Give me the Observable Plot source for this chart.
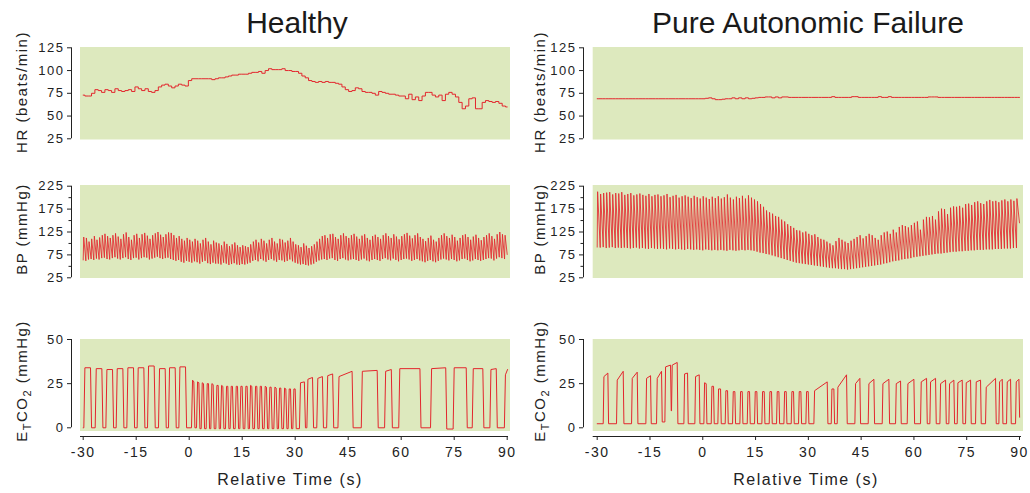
<!DOCTYPE html>
<html><head><meta charset="utf-8">
<script src="https://cdn.jsdelivr.net/npm/d3@7"></script>
<script src="https://cdn.jsdelivr.net/npm/@observablehq/plot@0.6"></script>
<style>
body{margin:0;background:#fff;font-family:"Liberation Sans",Arial,sans-serif;color:#222;}
#c{position:relative;width:1030px;height:493px;overflow:hidden;background:#fff;}
#c svg{position:absolute;}
.t{position:absolute;font-size:30px;line-height:34px;white-space:nowrap;transform:translateX(-50%);color:#1a1a1a;}
.yl{position:absolute;font-size:15px;letter-spacing:1.5px;line-height:18px;white-space:nowrap;transform:translate(-50%,-50%) rotate(-90deg);color:#222;}
.yl sub{font-size:11px;vertical-align:-4px;line-height:0;}
.xl{position:absolute;font-size:16px;letter-spacing:1.5px;line-height:20px;white-space:nowrap;transform:translateX(-50%);color:#222;}
</style></head><body><div id="c"></div>
<script>
// ---------------- data ----------------
const xTicks = [-30, -15, 0, 15, 30, 45, 60, 75, 90];
const hrTicks = [25, 50, 75, 100, 125];
const bpTicks = [25, 75, 125, 175, 225];
const bpMinor = [50, 100, 150, 200];
const co2Ticks = [0, 25, 50];

// Heart rate (beats/min), evenly sampled from -30 s to 90 s
const hrHealthy = [
73,72,72,75,79,78,76,79,78,76,
80,78,77,78,79,77,82,80,78,80,
77,76,78,82,84,85,83,81,83,85,
84,83,89,91,91,91,91,91,91,90,
91,92,92,93,94,95,95,96,96,96,
97,98,98,99,97,100,102,101,101,101,
102,100,100,99,99,97,94,92,89,88,
87,88,87,88,87,87,86,85,82,79,
77,78,81,80,77,76,76,75,73,77,
76,75,74,74,73,72,72,69,74,68,
71,67,72,76,76,73,71,73,67,74,
76,74,71,65,58,61,69,70,58,58,
65,67,66,65,66,64,61,60];
const hrPAF = [
69,69,69,69,69,69,69,69,69,69,
69,69,69,69,69,69,69,69,69,69,
69,69,69,69,69,69,69,69,69,69,
69,69,69,
69.5,70,69,68,68,68.5,69,69,70,69,
70,69,70,69,69.5,70,70.5,70.5,71,71,
70,71,70,71,71,70.5,70.5,70.5,70.5,70.5,
70.5,70.5,70.5,70.5,70.5,70.5,70.5,70.5,71.3,70.5,
70.5,70.5,70.5,70.5,71.3,71.3,70.5,70.5,70.5,70.5,
70.5,70.5,71.3,70.5,70.5,71.3,70.5,70.5,70.5,70.5,
70.5,70.5,70.5,70.5,70.5,70.5,70.5,71,71,71,
70.5,70.5,70.5,70.5,70.5,70.5,70.5,70.5,70.5,70.5,
70.5,70.5,70.5,70.5,70.5,70.5,70.5,70.5,70.5,70.5,
70.5,70.5,70.5,70.5,70.5];

// Blood pressure: systolic peak of each beat, diastolic trough before each beat (+ end value)
const bpSysHealthy = [
114,112,104,110,116,108,113,118,121,116,
112,118,122,115,110,120,124,114,108,118,
121,112,120,123,117,110,118,122,125,119,
114,120,124,123,118,112,116,110,106,112,
108,104,110,106,100,108,112,104,98,106,
102,100,96,104,99,94,98,102,96,92,
96,94,92,98,104,108,102,110,106,100,
108,112,104,100,110,108,102,106,112,104,
98,96,92,100,95,90,94,98,104,110,
116,118,112,120,121,114,110,118,122,116,
112,118,121,115,110,117,120,112,108,116,
119,114,110,118,122,116,112,120,115,109,
116,120,123,117,111,118,122,114,110,105,
112,117,108,104,112,118,122,116,112,119,
114,106,112,118,120,114,108,115,119,112,
107,114,118,122,116,110,120,125,120,118];
const bpDiaHealthy = [
64,62,65,66,64,67,65,68,69,66,
65,68,70,67,65,68,70,66,64,68,
69,65,68,70,69,65,67,69,71,68,
66,68,69,66,64,62,64,60,58,62,
60,58,61,59,56,60,62,57,55,58,
56,56,54,58,56,53,55,57,54,53,
55,54,56,58,62,64,61,66,63,60,
64,66,63,60,64,63,60,62,65,61,
58,56,54,55,53,52,54,56,60,63,
65,66,64,67,68,64,62,66,68,65,
63,65,66,64,62,65,67,63,61,64,
66,64,62,66,68,65,63,67,64,61,
64,66,67,65,62,64,66,63,61,59,
62,64,61,59,62,65,67,65,63,66,
64,61,63,66,67,64,61,63,66,64,
62,64,66,68,67,63,67,70,68,66,
76];
const bpSysPAF = [
213,208,210,211,212,207,210,209,212,206,
208,210,205,207,209,206,204,208,203,206,
207,203,205,208,201,204,206,200,203,205,
202,199,204,201,198,203,200,197,202,199,
203,198,201,207,200,196,202,199,204,198,
205,200,196,192,186,180,172,168,165,160,
158,152,148,142,138,134,129,128,124,126,
121,118,120,114,110,108,104,100,96,105,
112,108,104,101,106,110,114,118,111,116,
121,118,112,108,118,124,126,121,130,124,
136,140,138,135,140,145,148,130,152,158,
157,160,152,170,176,175,164,178,181,180,
182,178,186,187,184,190,192,188,186,192,
195,192,193,190,194,196,192,196,193,198];
const bpDiaPAF = [
92,91,92,90,91,92,90,91,90,91,
90,89,90,91,89,90,89,88,90,89,
88,89,88,87,89,88,87,88,87,86,
88,87,86,87,86,85,87,86,85,86,
85,86,85,84,86,85,84,85,86,85,
86,85,84,82,80,79,77,76,74,72,
70,68,66,64,62,60,58,57,56,55,
54,53,52,51,50,49,48,47,46,46,
45,44,44,43,44,45,46,47,48,49,
50,51,52,53,54,56,57,59,61,62,
63,65,66,67,68,70,71,72,73,74,
75,76,77,78,78,79,80,81,82,82,
83,83,84,84,85,85,86,86,86,87,
87,87,88,88,88,89,89,89,90,90,
145];

// End-tidal CO2: each breath = rise time, fall time, plateau start/end level, level after fall
const co2OnHealthy = [-29.82,-26.61,-23.59,-20.67,-17.65,-14.73,-11.80,-8.69,-5.86,-2.93,
0.65,2.07,3.39,4.80,6.12,7.54,8.86,10.27,11.59,13.01,14.33,15.74,17.06,18.48,19.80,21.21,22.53,23.95,25.27,26.69,28.01,29.33,
31.2,33.3,36.1,38.9,42.1,48.7,55.3,59.3,68.3,74.7,80.1,85.1,89.2];
const co2OffHealthy = [-27.93,-24.72,-21.70,-18.78,-15.76,-12.84,-9.91,-6.80,-3.97,-1.04,
1.31,2.73,4.05,5.46,6.78,8.20,9.52,10.93,12.25,13.67,14.99,16.40,17.72,19.14,20.46,21.87,23.19,24.61,25.93,27.35,28.67,29.99,
32.6,34.9,37.7,40.6,46.1,53.2,57.2,65.3,72.6,78.4,83.1,86.9,90.1];
const co2TopAHealthy = [34,33.5,33,33.5,34,34,35,33.5,34,34.5,
27,26,25.5,25,25,24,24,23.5,23.5,23.5,23.5,23.5,24,23.5,23.5,23.5,23,23,22.5,22.5,22,22,
25.5,27.5,28,29.5,29,32,32,33.5,33.5,34,33.5,33,30];
const co2TopBHealthy = [34,33.5,33,33.5,34,34,35,33.5,34,34.5,
26,25.5,25,25,24.5,24,23.5,23.5,23.5,23.5,23.5,23.5,23.5,23.5,23.5,23,23,22.5,22.5,22,22,22,
26,28.5,29,30.5,32,32.5,33,33.5,34,34,33.5,33.5,33];
const co2LowHealthy = [0,0,0,0,0,0,0,0,0,0,
0,-0.5,-0.5,-0.5,-0.5,-0.5,-0.5,-0.5,-0.5,-0.5,-0.5,-0.5,-0.5,-0.5,-0.5,-0.5,-0.5,-0.5,-0.5,-0.5,-0.5,-0.5,
0,0,0,0,0,0,0,0,-0.7,0,0,0,null];

const co2OnPAF = [-28.29,-24.51,-20.24,-16.17,-13.14,-10.77,-8.88,-5.37,-2.25,0.31,2.40,4.29,6.37,8.46,10.54,12.63,14.71,16.79,18.88,20.96,23.05,25.13,27.21,29.30,31.57,36.50,38.20,43.22,47.01,50.99,54.78,58.09,61.88,64.53,67.38,69.93,72.30,74.67,77.51,80.35,84.14,86.32,88.88];
const co2OffPAF = [-26.97,-22.61,-18.63,-14.84,-11.72,-9.16,-7.27,-4.33,-1.01,0.97,3.06,5.05,7.04,9.12,11.21,13.29,15.37,17.46,19.54,21.63,23.71,25.79,27.88,29.96,35.36,37.25,40.85,44.64,48.62,52.88,56.20,59.99,63.59,66.14,68.99,71.35,73.72,76.09,78.93,83.19,85.09,87.46,89.83];
const co2TopAPAF = [29,27,28,28,28,34.5,35.5,30.5,29,25.5,23.5,22,21,20.5,20.5,20.5,20.5,20.5,20.5,20.5,20.5,20.5,20.5,20.5,21,22,23,25,25,25,25,25,26,26,25,25,25.5,25.5,26,23,26,26,26];
const co2TopBPAF = [31,32,31.5,29.5,32,35.5,37,31,30,25,23.5,22,21,20.5,20.5,20.5,20.5,20.5,20.5,20.5,20.5,20.5,20.5,20.5,26,22,30,28,27.5,27.5,26.5,27.5,28,28,27,27,27,27,27,28,27.5,27.5,27.5];
const co2LowPAF = [2.3,2.3,2.3,2.3,3.3,9.6,2.3,2.3,2.3,2.3,2.3,2.3,2.3,2.3,2.3,2.3,2.3,2.3,2.3,2.3,2.3,2.3,2.3,2.3,2.3,2.3,2.3,2.3,2.3,2.3,2.3,2.3,2.3,2.3,2.3,2.3,2.3,2.3,2.3,2.3,2.3,2.3,6];
const co2StartHealthy = 0;
const co2StartPAF = 2.3;

// ---------------- build series ----------------
function evenSeries(vals) {
  const n = vals.length;
  return vals.map((v, i) => ({t: -30 + i * 120 / (n - 1), v}));
}
function beatSeries(sys, dia, rise) {
  const n = sys.length, step = 120 / n, pts = [];
  for (let i = 0; i < n; i++) {
    const t = -30 + i * step;
    pts.push({t, v: dia[i]});
    pts.push({t: t + rise, v: sys[i]});
  }
  pts.push({t: 90, v: dia[n]});
  return pts;
}
function breathSeries(on, off, topA, topB, low, start, edge) {
  const pts = [{t: -30, v: start}];
  let base = start;
  for (let i = 0; i < on.length; i++) {
    pts.push({t: on[i], v: base});
    pts.push({t: on[i] + edge, v: topA[i]});
    pts.push({t: off[i], v: topB[i]});
    if (low[i] != null) { pts.push({t: off[i] + edge, v: low[i]}); base = low[i]; }
  }
  return pts;
}

const series = [
  [evenSeries(hrHealthy), evenSeries(hrPAF)],
  [beatSeries(bpSysHealthy, bpDiaHealthy, 0.15), beatSeries(bpSysPAF, bpDiaPAF, 0.12)],
  [breathSeries(co2OnHealthy, co2OffHealthy, co2TopAHealthy, co2TopBHealthy, co2LowHealthy, co2StartHealthy, 0.3),
   breathSeries(co2OnPAF, co2OffPAF, co2TopAPAF, co2TopBPAF, co2LowPAF, co2StartPAF, 0.2)]
];

// ---------------- layout ----------------
const red = "#e3262d", bg = "#dde9be", ink = "#222";
const cols = [
  {svgLeft: 0, svgWidth: 520, axisX: 71, frameR: 511, pm30: 82.7, p90: 506.7, bgL: 80, bgR: 510},
  {svgLeft: 520, svgWidth: 510, axisX: 583, frameR: 1024, pm30: 596.7, p90: 1019, bgL: 592.7, bgR: 1023}
];
const rows = [
  {svgTop: 38, svgHeight: 112, frameT: 45, frameB: 141, vA: 125, pA: 47.3, vB: 25, pB: 138.3, bgT: 47, bgB: 139.5, ticks: hrTicks, minor: [], curve: "step", sw: 1},
  {svgTop: 176, svgHeight: 112, frameT: 183, frameB: 280, vA: 225, pA: 185.7, vB: 25, pB: 277.3, bgT: 185, bgB: 278, ticks: bpTicks, minor: bpMinor, curve: "linear", sw: 0.85},
  {svgTop: 330, svgHeight: 140, frameT: 337, frameB: 436, vA: 50, pA: 339, vB: 0, pB: 427.3, bgT: 339, bgB: 431, ticks: co2Ticks, minor: [], curve: "linear", sw: 1}
];

const container = document.getElementById("c");
rows.forEach((r, ri) => {
  cols.forEach((c, ci) => {
    const kx = (c.p90 - c.pm30) / 120;
    const tx = p => -30 + (p - c.pm30) / kx;
    const vy = p => r.vA + (p - r.pA) * (r.vB - r.vA) / (r.pB - r.pA);
    const bottom = ri === 2;
    const marks = [
      Plot.rect([{x1: tx(c.bgL), x2: tx(c.bgR), y1: vy(r.bgB), y2: vy(r.bgT)}], {x1: "x1", x2: "x2", y1: "y1", y2: "y2", fill: bg}),
      Plot.ruleX([tx(c.axisX)], {y1: r.vB, y2: r.vA, stroke: ink, strokeWidth: 1}),
      Plot.axisY({ticks: r.ticks, anchor: "left", tickSize: 4, tickPadding: 3, tickFormat: d => String(d), fontSize: 13, stroke: ink, fill: ink}),
    ];
    if (r.minor.length) marks.push(Plot.axisY({ticks: r.minor, anchor: "left", tickSize: 2.5, text: null, stroke: ink}));
    if (bottom) {
      marks.push(Plot.ruleY([vy(r.frameB)], {x1: tx(c.bgL), x2: tx(c.bgR - 2), stroke: ink, strokeWidth: 1}));
      marks.push(Plot.axisX({ticks: xTicks, anchor: "bottom", tickSize: 4, tickPadding: 7, tickFormat: d => String(d), fontSize: 14, stroke: ink, fill: ink}));
    }
    marks.push(Plot.line(series[ri][ci], {x: "t", y: "v", stroke: red, strokeWidth: r.sw, curve: r.curve}));
    const svg = Plot.plot({
      width: c.svgWidth, height: r.svgHeight,
      marginLeft: c.axisX - c.svgLeft, marginRight: c.svgLeft + c.svgWidth - c.frameR,
      marginTop: r.frameT - r.svgTop, marginBottom: r.svgTop + r.svgHeight - r.frameB,
      x: {domain: [tx(c.axisX), tx(c.frameR)], axis: bottom ? undefined : null},
      y: {domain: [vy(r.frameB), vy(r.frameT)]},
      style: {fontFamily: "'Liberation Sans', Arial, sans-serif", letterSpacing: "1.5px", color: ink, background: "transparent", overflow: "visible"},
      marks
    });
    svg.style.left = c.svgLeft + "px";
    svg.style.top = r.svgTop + "px";
    container.appendChild(svg);
  });
});

// ---------------- text ----------------
function addDiv(cls, html, left, top) {
  const d = document.createElement("div");
  d.className = cls; d.innerHTML = html;
  d.style.left = left + "px"; d.style.top = top + "px";
  container.appendChild(d);
}
addDiv("t", "Healthy", 297, 6);
addDiv("t", "Pure Autonomic Failure", 808, 6);
[[21.5, 539.5]].forEach(([xa, xb]) => {
  addDiv("yl", "HR (beats/min)", xa, 92);
  addDiv("yl", "HR (beats/min)", xb, 92);
  addDiv("yl", "BP (mmHg)", xa, 229);
  addDiv("yl", "BP (mmHg)", xb, 229);
  addDiv("yl", "E<sub>T</sub>CO<sub>2</sub> (mmHg)", xa, 381);
  addDiv("yl", "E<sub>T</sub>CO<sub>2</sub> (mmHg)", xb, 381);
});
addDiv("xl", "Relative Time (s)", 290, 470);
addDiv("xl", "Relative Time (s)", 806, 470);
</script></body></html>
